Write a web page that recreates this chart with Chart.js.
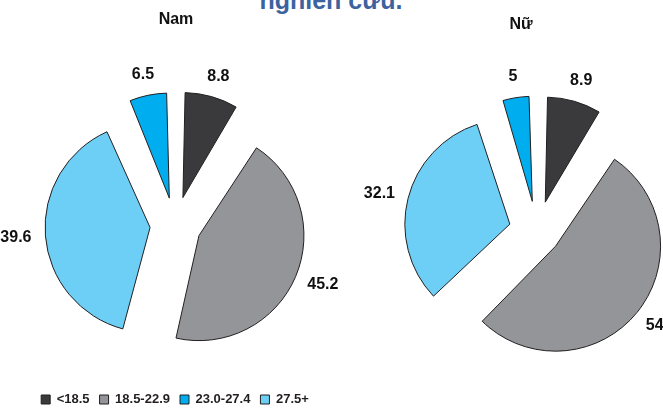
<!DOCTYPE html>
<html>
<head>
<meta charset="utf-8">
<script src="https://cdn.jsdelivr.net/npm/chart.js@4/dist/chart.umd.min.js"></script>
<style>
  html, body { margin:0; padding:0; background:#ffffff; }
  body { width:663px; height:408px; overflow:hidden; position:relative; font-family:"Liberation Sans", Arial, sans-serif; }
  .abs { position:absolute; }
  #pageTitle { left:331px; top:-12px; transform:translateX(-50%); font-weight:bold; font-size:25px; line-height:25px; color:#3c63a0; white-space:nowrap; }
  .sub { transform:translateX(-50%); font-weight:bold; font-size:16px; line-height:16px; color:#111; white-space:nowrap; }
  #tNam { left:176px; top:11px; }
  #tNu { left:521px; top:16px; }
  #cNam { left:0; top:0; }
  #cNu { left:350px; top:0; }
</style>
</head>
<body>
<div id="pageTitle" class="abs">nghiên cứu.</div>
<canvas id="cNam" class="abs" width="350" height="416"></canvas>
<canvas id="cNu" class="abs" width="374" height="408"></canvas>
<div id="tNam" class="abs sub">Nam</div>
<div id="tNu" class="abs sub">Nữ</div>
<script>
// Categories in drawing order (clockwise from 12 o'clock)
const categories = ['<18.5', '18.5-22.9', '27.5+', '23.0-27.4'];
// Legend order
const legendOrder = ['<18.5', '18.5-22.9', '23.0-27.4', '27.5+'];
// Values (%)
const namValues = [8.8, 45.2, 39.6, 6.5];
const nuValues  = [8.9, 54, 32.1, 5];

const colorMap = {
  '<18.5': '#3a3a3c',
  '18.5-22.9': '#939598',
  '23.0-27.4': '#00aeef',
  '27.5+': '#6dcff6'
};
const sliceColors = categories.map(c => colorMap[c]);
const PIE_RADIUS = 105;

// Chart.js translates an arc by offset/4 and enlarges its radius by (offset/4)*fix;
// keep every slice at the same visible radius.
const evenRadius = {
  id: 'evenRadius',
  afterUpdate(chart) {
    chart.getDatasetMeta(0).data.forEach(arc => {
      const t = (arc.options.offset || 0) / 4;
      const fix = 1 - Math.sin(Math.min(Math.PI, arc.circumference || 0));
      arc.outerRadius = PIE_RADIUS - t * fix;
    });
  }
};

const valueLabels = {
  id: 'valueLabels',
  afterDatasetsDraw(chart) {
    const ctx = chart.ctx;
    const meta = chart.getDatasetMeta(0);
    const ds = chart.data.datasets[0];
    ctx.save();
    ctx.font = 'bold 16px "Liberation Sans", Arial, sans-serif';
    ctx.fillStyle = '#111111';
    ctx.textAlign = 'center';
    ctx.textBaseline = 'middle';
    meta.data.forEach((arc, i) => {
      const p = arc.getProps(['x', 'y', 'startAngle', 'endAngle', 'outerRadius', 'circumference'], true);
      const mid = (p.startAngle + p.endAngle) / 2;
      const t = (arc.options.offset || 0) / 4;
      const fix = 1 - Math.sin(Math.min(Math.PI, p.circumference || 0));
      const outer = p.outerRadius + t * fix;
      const txt = String(ds.data[i]);
      const w = ctx.measureText(txt).width;
      const h = 14;
      const d = t + outer + 14;
      const cx = p.x + Math.cos(mid) * (d + w / 2);
      const cy = p.y + Math.sin(mid) * (d + h / 2);
      ctx.fillText(txt, cx, cy);
    });
    ctx.restore();
  }
};

function makePie(id, values, shifts, padTop, showLegend) {
  return new Chart(document.getElementById(id), {
    type: 'pie',
    data: {
      labels: categories,
      datasets: [{
        data: values,
        backgroundColor: sliceColors,
        borderColor: '#231f20',
        borderWidth: 1,
        offset: shifts.map(s => s * 4)
      }]
    },
    options: {
      responsive: false,
      animation: false,
      radius: PIE_RADIUS,
      layout: { padding: { top: padTop } },
      plugins: {
        tooltip: { enabled: false },
        title: { display: false },
        legend: {
          display: showLegend,
          position: 'bottom',
          labels: {
            boxWidth: 9,
            boxHeight: 9,
            padding: 10,
            color: '#231f20',
            font: { family: '"Liberation Sans", Arial, sans-serif', size: 13, weight: 'bold' },
            sort: (a, b) => legendOrder.indexOf(a.text) - legendOrder.indexOf(b.text)
          }
        }
      }
    },
    plugins: [evenRadius, valueLabels]
  });
}

makePie('cNam', namValues, [29, 26, 25, 28], 68, true);
makePie('cNu', nuValues, [30, 24, 28, 30], 54, false);
</script>
</body>
</html>
